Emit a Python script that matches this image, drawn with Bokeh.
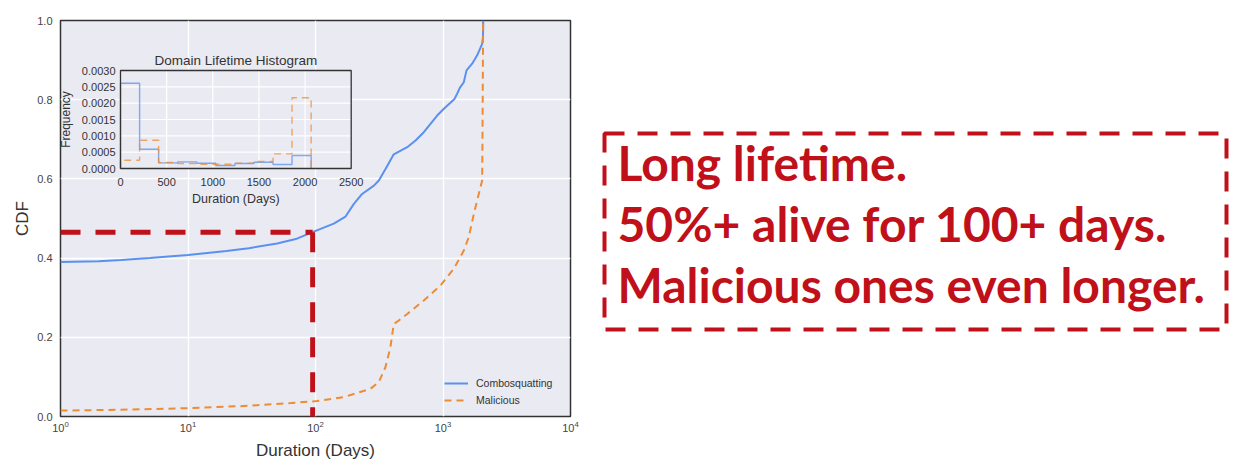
import numpy as np
from bokeh.plotting import figure
from bokeh.layouts import row
from bokeh.models import Range1d, LinearScale, FixedTicker, PrintfTickFormatter, Arrow
from bokeh.core.properties import value
from bokeh.embed import file_html
from bokeh.resources import INLINE

# ---------------- data ----------------
combo_days = [1, 2, 3, 5, 10, 20, 30, 50, 70, 97, 139, 172, 200, 232, 287, 314, 354, 411,
              524, 609, 707, 900, 1016, 1231, 1291, 1355, 1456, 1529, 1693, 1853, 2028, 2060, 2066]
combo_cdf = [0.390, 0.392, 0.395, 0.400, 0.408, 0.418, 0.425, 0.437, 0.448, 0.467, 0.487, 0.505,
             0.537, 0.562, 0.583, 0.596, 0.625, 0.662, 0.680, 0.697, 0.718, 0.760, 0.777, 0.802,
             0.815, 0.830, 0.844, 0.874, 0.891, 0.912, 0.941, 0.960, 1.0]
mal_days = [1, 3, 10, 30, 64, 103, 167, 270, 314, 354, 387, 411, 440, 524, 707, 955, 1216,
            1456, 1592, 1746, 1912, 2028, 2040, 2052, 2066]
mal_cdf = [0.015, 0.017, 0.021, 0.027, 0.034, 0.039, 0.049, 0.070, 0.087, 0.125, 0.175, 0.234,
           0.240, 0.259, 0.293, 0.331, 0.373, 0.419, 0.453, 0.512, 0.563, 0.596, 0.700, 0.850, 1.0]

hist_edges = [0, 207, 413, 620, 826, 1033, 1240, 1446, 1653, 1859, 2066]
combo_freq = [0.00261, 0.00059, 0.000173, 0.000203, 0.000163, 0.0000915, 0.000153, 0.000193,
              0.000122, 0.000397]
mal_freq = [0.000254, 0.000864, 0.000183, 0.000153, 0.000132, 0.000132, 0.000163, 0.000214,
            0.000447, 0.002166]

x_ticks = [1, 10, 100, 1000, 10000]
y_ticks = [0.0, 0.2, 0.4, 0.6, 0.8, 1.0]
inset_x_ticks = [0, 500, 1000, 1500, 2000, 2500]
inset_y_ticks = [0.0, 0.0005, 0.0010, 0.0015, 0.0020, 0.0025, 0.0030]
inset_y_labels = ["0.0000", "0.0005", "0.0010", "0.0015", "0.0020", "0.0025", "0.0030"]

marker_day = 95
marker_cdf = 0.465

note_lines = ["Long lifetime.", "50%+ alive for 100+ days.", "Malicious ones even longer."]

# ---------------- style ----------------
BG = "#EAEAF2"
BLUE = "#5A91F0"
ORANGE = "#EE8C32"
RED = "#C0101A"
FONT = "Liberation Sans"

# main figure geometry (pixels)
W, H = 598, 457
FL, FR, FT, FB = 60, 570, 20, 416

p = figure(width=W, height=H, x_axis_type="log", x_range=Range1d(1, 1e4),
           y_range=Range1d(0, 1), output_backend="svg", toolbar_location=None, title=None,
           frame_width=FR - FL, frame_height=FB - FT,
           min_border_left=FL, min_border_right=W - FR, min_border_top=FT,
           min_border_bottom=H - FB)
p.background_fill_color = BG
p.border_fill_color = "white"
p.outline_line_color = "#333333"
p.outline_line_width = 1.5
p.outline_line_alpha = 1.0

p.xaxis.ticker = FixedTicker(ticks=x_ticks, minor_ticks=[])
p.yaxis.ticker = FixedTicker(ticks=y_ticks, minor_ticks=[])
p.yaxis.formatter = PrintfTickFormatter(format="%.1f")
for ax in (p.xaxis, p.yaxis):
    ax.axis_line_color = None
    ax.major_tick_line_color = None
    ax.minor_tick_line_color = None
    ax.major_tick_out = 0
    ax.major_tick_in = 0
    ax.major_label_text_font = FONT
    ax.major_label_text_font_size = "11px"
    ax.major_label_text_color = "#444444"
    ax.axis_label_text_font = FONT
    ax.axis_label_text_font_size = "17px"
    ax.axis_label_text_font_style = "normal"
    ax.axis_label_text_color = "#333333"
p.xaxis.axis_label = "Duration (Days)"
p.yaxis.axis_label = "CDF"
p.xaxis.major_label_standoff = 4
p.xaxis.axis_label_standoff = 6
p.yaxis.major_label_standoff = 8
p.yaxis.axis_label_standoff = 2
p.xgrid.ticker = FixedTicker(ticks=x_ticks, minor_ticks=[])
p.ygrid.ticker = FixedTicker(ticks=y_ticks, minor_ticks=[])
p.grid.grid_line_color = "white"
p.grid.grid_line_width = 1.3

p.line(combo_days, combo_cdf, line_color=BLUE, line_width=2, legend_label="Combosquatting")
p.line(mal_days, mal_cdf, line_color=ORANGE, line_width=2, line_dash="7 5",
       legend_label="Malicious")

# ---------------- inset (drawn with extra ranges) ----------------
IL, IR, IT, IB = 120, 350.7, 70, 168
ix0, ix1 = inset_x_ticks[0], inset_x_ticks[-1]
iy0, iy1 = inset_y_ticks[0], inset_y_ticks[-1]
dx = (ix1 - ix0) / (IR - IL)
dy = (iy1 - iy0) / (IB - IT)
p.extra_x_ranges = {"ix": Range1d(ix0 - (IL - FL) * dx, ix1 + (FR - IR) * dx)}
p.extra_x_scales = {"ix": LinearScale()}
p.extra_y_ranges = {"iy": Range1d(iy0 - (FB - IB) * dy, iy1 + (IT - FT) * dy)}
kw = dict(x_range_name="ix", y_range_name="iy")

p.quad(left=[ix0], right=[ix1], bottom=[iy0], top=[iy1], fill_color=BG, line_color=None, **kw)
vx = inset_x_ticks[1:-1]
p.segment(x0=vx, x1=vx, y0=[iy0] * len(vx), y1=[iy1] * len(vx), line_color="white",
          line_width=1.2, **kw)
hy = inset_y_ticks[1:-1]
p.segment(x0=[ix0] * len(hy), x1=[ix1] * len(hy), y0=hy, y1=hy, line_color="white",
          line_width=1.2, **kw)


def step_outline(edges, vals):
    xs, ys = [edges[0]], [0.0]
    for i, v in enumerate(vals):
        xs += [edges[i], edges[i + 1]]
        ys += [v, v]
    xs.append(edges[-1])
    ys.append(0.0)
    return xs, ys


bx, by = step_outline(hist_edges, combo_freq)
p.line(bx, by, line_color=BLUE, line_alpha=0.75, line_width=1.4, **kw)
ox, oy = step_outline(hist_edges, mal_freq)
p.line(ox, oy, line_color=ORANGE, line_alpha=0.75, line_width=1.4, line_dash="7 5", **kw)
p.quad(left=[ix0], right=[ix1], bottom=[iy0], top=[iy1], fill_color=None,
       line_color="#333333", line_width=1.3, **kw)

# inset texts
p.text(x=[ix0 - 5 * dx] * len(inset_y_ticks), y=inset_y_ticks, text=inset_y_labels,
       text_align="right", text_baseline="middle", text_font=value(FONT),
       text_font_size="11px", text_color="#333333", **kw)
p.text(x=inset_x_ticks, y=[iy0 - 13.5 * dy] * len(inset_x_ticks),
       text=[str(t) for t in inset_x_ticks], text_align="center", text_baseline="middle",
       text_font=value(FONT), text_font_size="11px", text_color="#333333", **kw)
p.text(x=[(ix0 + ix1) / 2], y=[iy0 - 30 * dy], text=["Duration (Days)"], text_align="center",
       text_baseline="middle", text_font=value(FONT), text_font_size="12.5px",
       text_color="#333333", **kw)
p.text(x=[(ix0 + ix1) / 2], y=[iy1 + 10 * dy], text=["Domain Lifetime Histogram"],
       text_align="center", text_baseline="middle", text_font=value(FONT),
       text_font_size="13.5px", text_color="#333333", **kw)
p.text(x=[ix0 - 55 * dx], y=[(iy0 + iy1) / 2], text=["Frequency"], angle=np.pi / 2,
       text_align="center", text_baseline="middle", text_font=value(FONT),
       text_font_size="12px", text_color="#333333", **kw)

# red annotation lines
p.add_layout(Arrow(end=None, x_start=1, y_start=marker_cdf, x_end=marker_day,
                   y_end=marker_cdf, line_color=RED, line_width=5, line_dash="20 15"))
p.add_layout(Arrow(end=None, x_start=marker_day, y_start=marker_cdf, x_end=marker_day,
                   y_end=-0.036, line_color=RED, line_width=5, line_dash="20 15"))

# legend
p.legend.location = (379, 4)
p.legend.background_fill_alpha = 0
p.legend.border_line_alpha = 0
p.legend.label_text_font = FONT
p.legend.label_text_font_size = "10.5px"
p.legend.label_text_color = "#333333"
p.legend.glyph_width = 24
p.legend.glyph_height = 14
p.legend.label_height = 14
p.legend.spacing = 3
p.legend.padding = 5
p.legend.margin = 0
p.legend.label_standoff = 8

# ---------------- right-hand note ----------------
# same vertical frame geometry as the main plot (row aligns frames); ranges in page pixels
RW = 1229 - W
q = figure(width=RW, height=H, x_range=Range1d(W, W + RW), y_range=Range1d(FB, FT),
           x_axis_type=None, y_axis_type=None, output_backend="svg", toolbar_location=None,
           title=None, frame_width=RW, frame_height=FB - FT, min_border_left=0,
           min_border_right=0, min_border_top=FT, min_border_bottom=H - FB)
q.outline_line_color = None
q.grid.visible = False
q.background_fill_color = "white"
q.quad(left=[604], right=[1226], top=[133], bottom=[329], fill_color=None, line_color=RED,
       line_width=4, line_dash="20 13")
q.text(x=[617] * 3, y=[162, 223, 284], text=note_lines, text_font=value("Lato"),
       text_font_style="bold", text_font_size="48px", text_color=RED,
       text_baseline="alphabetic", text_align="left")

layout = row(p, q, spacing=0)
open("out.html", "w").write(file_html(layout, INLINE))
